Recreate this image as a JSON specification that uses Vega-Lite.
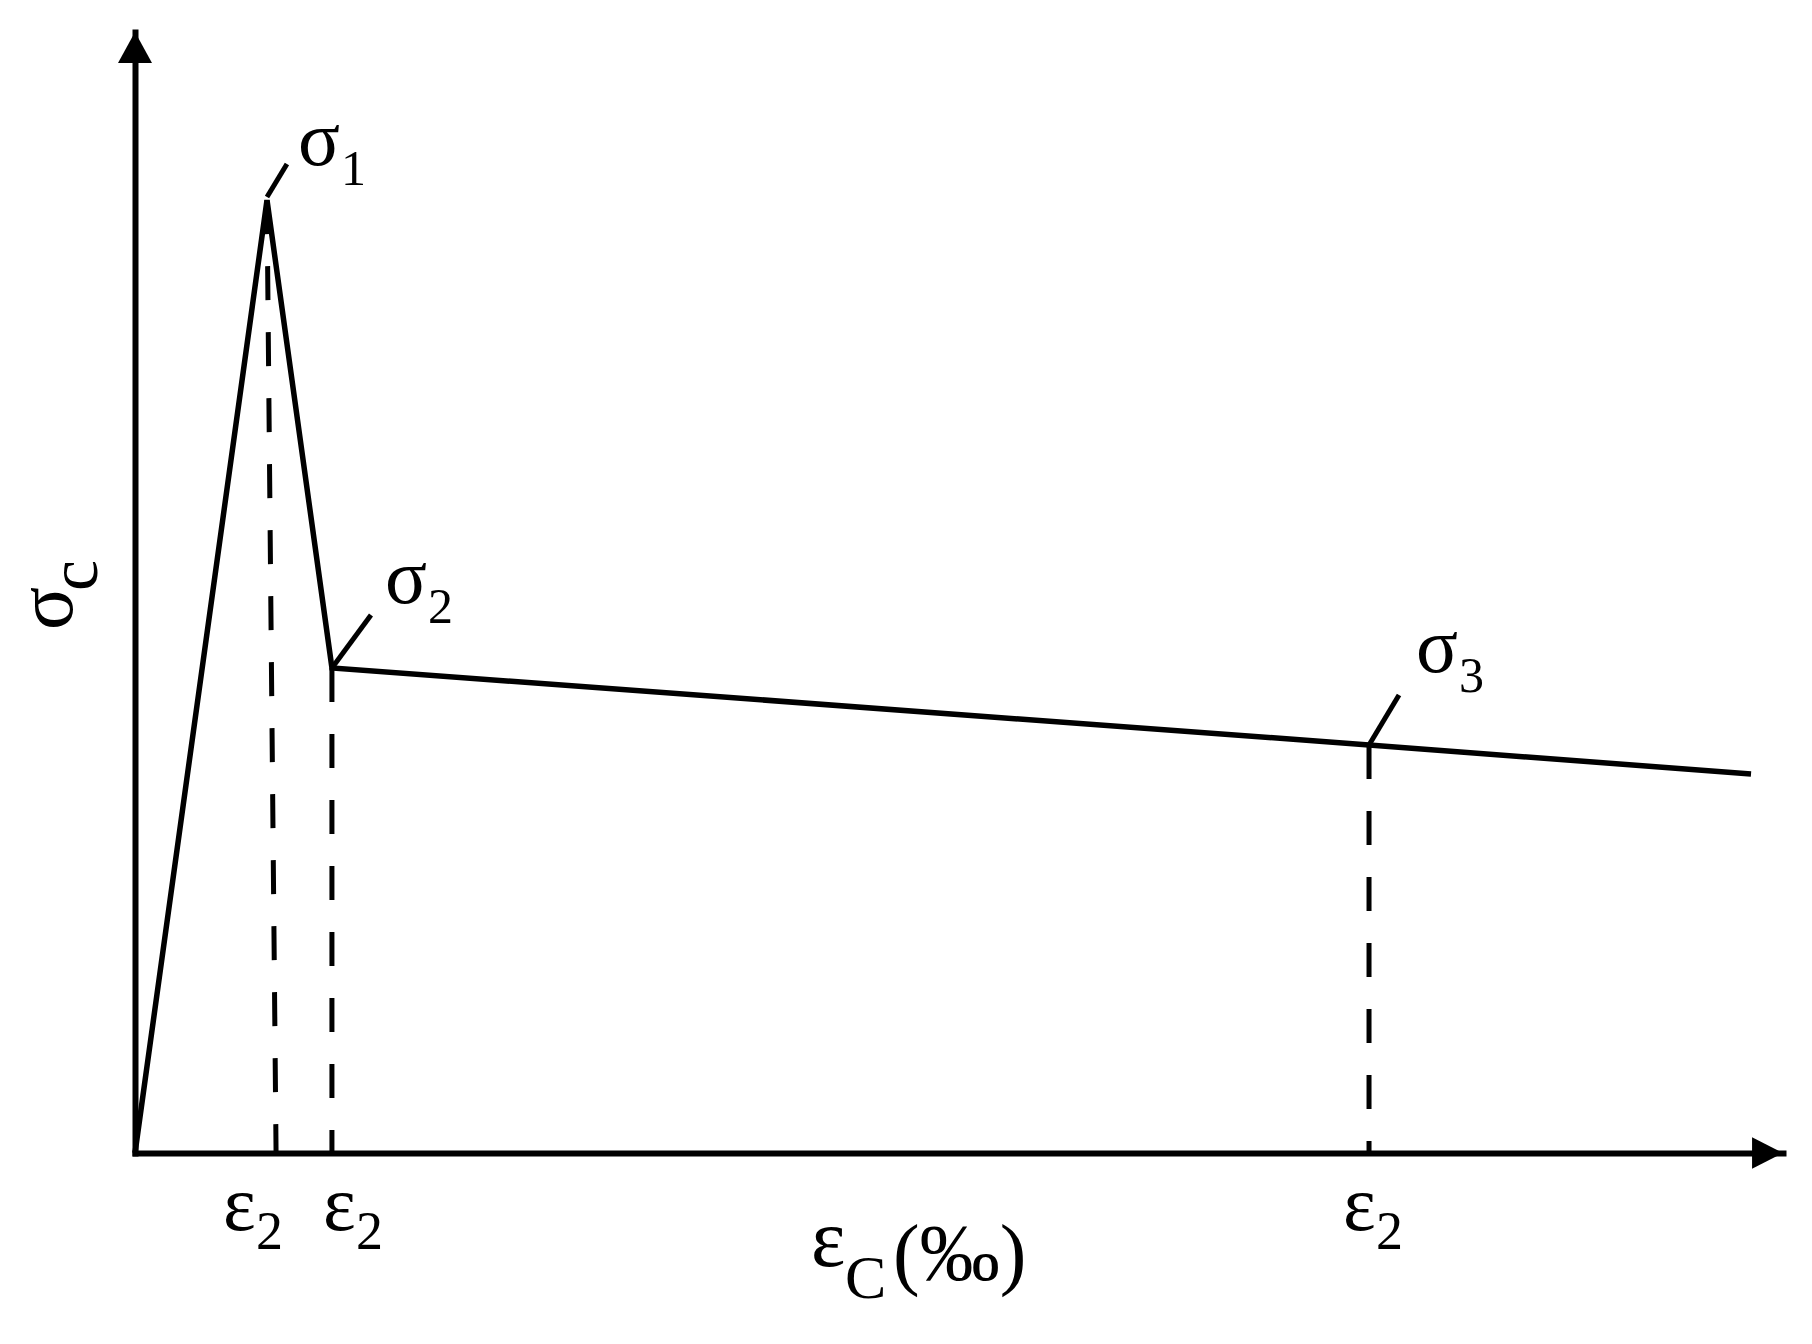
{
  "$schema": "https://vega.github.io/schema/vega-lite/v6.json",
  "width": 1648,
  "height": 1121,
  "autosize": {"type": "none"},
  "padding": {"left": 135, "top": 32, "right": 29, "bottom": 191},
  "background": "white",
  "config": {
    "view": {"stroke": null},
    "font": "Liberation Serif",
    "axis": {"domainColor": "black", "domainWidth": 6, "domainCap": "square", "ticks": false, "labels": false, "grid": false, "titleOpacity": 0}
  },
  "datasets": {
    "curve": [
      {"strain": 0, "stress": 0},
      {"strain": 0.801, "stress": 8.50},
      {"strain": 1.195, "stress": 4.327},
      {"strain": 7.488, "stress": 3.640},
      {"strain": 9.806, "stress": 3.381}
    ],
    "drops": [
      {"strain": 0.801, "stress": 8.50, "strain_base": 0.856},
      {"strain": 1.195, "stress": 4.327, "strain_base": 1.195},
      {"strain": 7.488, "stress": 3.640, "strain_base": 7.488}
    ],
    "points": [
      {"strain": 0.801, "stress": 8.528, "leader_strain": 0.922, "leader_stress": 8.822, "label_strain": 0.989, "label_stress": 8.813, "sym": "σ", "sub": "1"},
      {"strain": 1.195, "stress": 4.327, "leader_strain": 1.432, "leader_stress": 4.799, "label_strain": 1.517, "label_stress": 4.906, "sym": "σ", "sub": "2"},
      {"strain": 7.488, "stress": 3.640, "leader_strain": 7.670, "leader_stress": 4.086, "label_strain": 7.773, "label_stress": 4.291, "sym": "σ", "sub": "3"}
    ],
    "ticklabels": [
      {"label_strain": 0.534, "label_stress": -0.687, "sym": "ε", "sub": "2"},
      {"label_strain": 1.141, "label_stress": -0.687, "sym": "ε", "sub": "2"},
      {"label_strain": 7.330, "label_stress": -0.687, "sym": "ε", "sub": "2"}
    ],
    "arrows": [
      {"strain": 0, "stress": 10, "dir": "up"},
      {"strain": 10, "stress": 0, "dir": "right"}
    ],
    "xtitle": [
      {"label_strain": 4.102, "label_stress": -1.008, "sym": "ε", "sub": "C", "rest": "(‰)"}
    ],
    "ytitle": [
      {"label_strain": -0.382, "label_stress": 4.665, "sym": "σ", "sub": "c"}
    ]
  },
  "layer": [
    {
      "data": {"name": "curve"},
      "mark": {"type": "line", "color": "black", "strokeWidth": 5.5, "strokeJoin": "miter"},
      "encoding": {
        "x": {"field": "strain", "type": "quantitative", "scale": {"domain": [0, 10], "nice": false, "zero": false}, "axis": {"title": null}},
        "y": {"field": "stress", "type": "quantitative", "scale": {"domain": [0, 10], "nice": false, "zero": false}, "axis": {"title": null}}
      }
    },
    {
      "data": {"name": "drops"},
      "mark": {"type": "rule", "color": "black", "strokeWidth": 5, "strokeDash": [34, 32]},
      "encoding": {
        "x": {"field": "strain", "type": "quantitative"},
        "y": {"field": "stress", "type": "quantitative"},
        "x2": {"field": "strain_base"},
        "y2": {"datum": 0}
      }
    },
    {
      "data": {"name": "points"},
      "mark": {"type": "rule", "color": "black", "strokeWidth": 5},
      "encoding": {
        "x": {"field": "strain", "type": "quantitative"},
        "y": {"field": "stress", "type": "quantitative"},
        "x2": {"field": "leader_strain"},
        "y2": {"field": "leader_stress"}
      }
    },
    {
      "data": {"name": "arrows"},
      "mark": {"type": "point", "filled": true, "color": "black", "opacity": 1, "size": 1156, "strokeWidth": 0},
      "encoding": {
        "x": {"field": "strain", "type": "quantitative"},
        "y": {"field": "stress", "type": "quantitative"},
        "shape": {"field": "dir", "type": "nominal", "scale": {"domain": ["up", "right"], "range": ["M0,0L-1,1.82L1,1.82Z", "M0,0L-1.82,-0.92L-1.82,0.92Z"]}, "legend": null}
      }
    },
    {
      "data": {"name": "points"},
      "mark": {"type": "text", "align": "left", "baseline": "alphabetic", "fontSize": 78, "color": "black"},
      "encoding": {
        "x": {"field": "label_strain", "type": "quantitative"},
        "y": {"field": "label_stress", "type": "quantitative"},
        "text": {"field": "sym"}
      }
    },
    {
      "data": {"name": "points"},
      "mark": {"type": "text", "align": "left", "baseline": "alphabetic", "fontSize": 50, "dx": 43, "dy": 20, "color": "black"},
      "encoding": {
        "x": {"field": "label_strain", "type": "quantitative"},
        "y": {"field": "label_stress", "type": "quantitative"},
        "text": {"field": "sub"}
      }
    },
    {
      "data": {"name": "ticklabels"},
      "mark": {"type": "text", "align": "left", "baseline": "alphabetic", "fontSize": 78, "color": "black"},
      "encoding": {
        "x": {"field": "label_strain", "type": "quantitative"},
        "y": {"field": "label_stress", "type": "quantitative"},
        "text": {"field": "sym"}
      }
    },
    {
      "data": {"name": "ticklabels"},
      "mark": {"type": "text", "align": "left", "baseline": "alphabetic", "fontSize": 54, "dx": 33, "dy": 19, "color": "black"},
      "encoding": {
        "x": {"field": "label_strain", "type": "quantitative"},
        "y": {"field": "label_stress", "type": "quantitative"},
        "text": {"field": "sub"}
      }
    },
    {
      "data": {"name": "xtitle"},
      "mark": {"type": "text", "align": "left", "baseline": "alphabetic", "fontSize": 82, "color": "black"},
      "encoding": {
        "x": {"field": "label_strain", "type": "quantitative"},
        "y": {"field": "label_stress", "type": "quantitative"},
        "text": {"field": "sym"}
      }
    },
    {
      "data": {"name": "xtitle"},
      "mark": {"type": "text", "align": "left", "baseline": "alphabetic", "fontSize": 62, "dx": 34, "dy": 32, "color": "black"},
      "encoding": {
        "x": {"field": "label_strain", "type": "quantitative"},
        "y": {"field": "label_stress", "type": "quantitative"},
        "text": {"field": "sub"}
      }
    },
    {
      "data": {"name": "xtitle"},
      "mark": {"type": "text", "align": "left", "baseline": "alphabetic", "fontSize": 80, "dx": 82, "dy": 14, "color": "black"},
      "encoding": {
        "x": {"field": "label_strain", "type": "quantitative"},
        "y": {"field": "label_stress", "type": "quantitative"},
        "text": {"field": "rest"}
      }
    },
    {
      "data": {"name": "ytitle"},
      "mark": {"type": "text", "align": "left", "baseline": "alphabetic", "fontSize": 80, "angle": 270, "color": "black"},
      "encoding": {
        "x": {"field": "label_strain", "type": "quantitative"},
        "y": {"field": "label_stress", "type": "quantitative"},
        "text": {"field": "sym"}
      }
    },
    {
      "data": {"name": "ytitle"},
      "mark": {"type": "text", "align": "left", "baseline": "alphabetic", "fontSize": 70, "angle": 270, "dx": 39, "dy": 25, "color": "black"},
      "encoding": {
        "x": {"field": "label_strain", "type": "quantitative"},
        "y": {"field": "label_stress", "type": "quantitative"},
        "text": {"field": "sub"}
      }
    }
  ]
}
